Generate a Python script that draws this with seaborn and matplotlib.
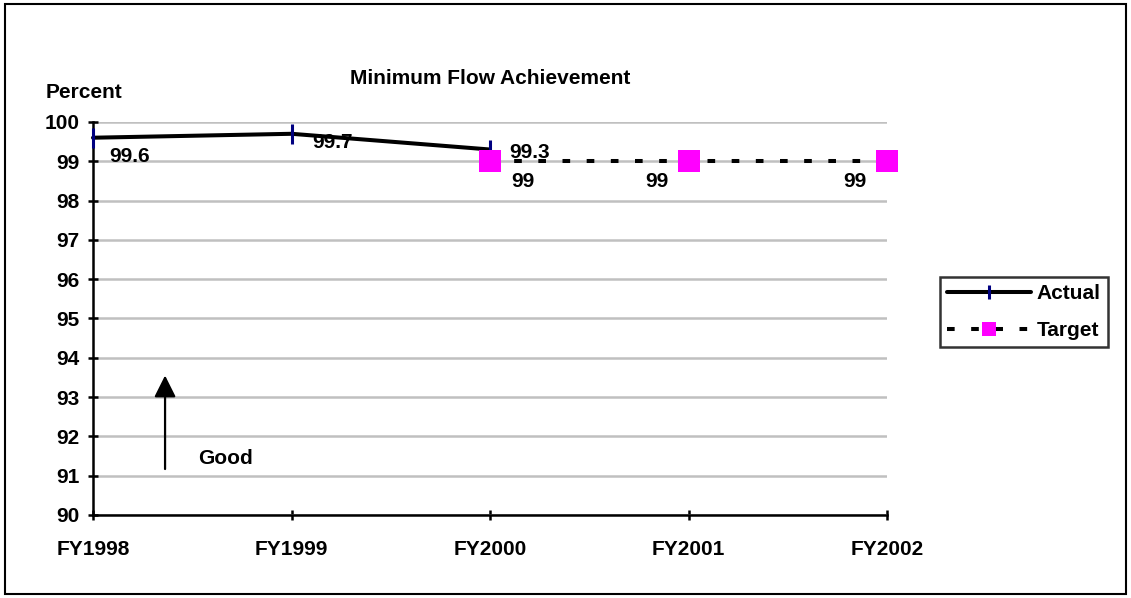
import matplotlib
matplotlib.use("Agg")
import matplotlib.pyplot as plt
import seaborn as sns
import pandas as pd
from matplotlib.patches import Rectangle

categories = ["FY1998", "FY1999", "FY2000", "FY2001", "FY2002"]
actual_cats = ["FY1998", "FY1999", "FY2000"]
actual_vals = [99.6, 99.7, 99.3]
target_cats = ["FY2000", "FY2001", "FY2002"]
target_vals = [99, 99, 99]
yticks = [90, 91, 92, 93, 94, 95, 96, 97, 98, 99, 100]

sns.set_theme(style="white")
plt.rcParams['font.family'] = ['Liberation Sans', 'DejaVu Sans']
plt.rcParams['font.weight'] = 'bold'
plt.rcParams['text.color'] = 'black'
plt.rcParams['xtick.color'] = 'black'
plt.rcParams['ytick.color'] = 'black'
plt.rcParams['xtick.labelcolor'] = 'black'
plt.rcParams['ytick.labelcolor'] = 'black'

FS = 15
W, H = 1131, 598
pos = {c: i for i, c in enumerate(categories)}
df_a = pd.DataFrame({"x": [pos[c] for c in actual_cats], "y": actual_vals})
df_t = pd.DataFrame({"x": [pos[c] for c in target_cats], "y": target_vals})

fig = plt.figure(figsize=(W / 100, H / 100), dpi=100)
fig.patches.append(Rectangle((5 / W, 4 / H), (W - 10) / W, (H - 8) / H, transform=fig.transFigure,
                             fill=False, edgecolor='black', linewidth=1.5))
ax = fig.add_axes([93 / W, 1 - 515 / H, (887 - 93) / W, (515 - 122) / H])

sns.lineplot(data=df_a, x="x", y="y", ax=ax, color="black", linewidth=2.9,
             marker="|", markersize=15, markeredgewidth=2.2, markeredgecolor="#000080",
             label="Actual", clip_on=False, zorder=3)
sns.lineplot(data=df_t, x="x", y="y", ax=ax, color="black", linewidth=2.9,
             linestyle=(0, (1.9, 4.1)), marker="s", markersize=15.5, markerfacecolor="#FF00FF",
             markeredgecolor="#FF00FF", markeredgewidth=0, label="Target", clip_on=False, zorder=4)

ax.set_xlim(0, 4)
ax.set_ylim(90, 100)
ax.set_yticks(yticks)
ax.set_xticks(range(len(categories)))
ax.set_xticklabels(categories)
ax.set_xlabel("")
ax.set_ylabel("")
ax.grid(axis="y", color="#c0c0c0", linewidth=1.8)
ax.set_axisbelow(True)
for s in ["top", "right"]:
    ax.spines[s].set_visible(False)
for s in ["left", "bottom"]:
    ax.spines[s].set_color("black")
    ax.spines[s].set_linewidth(1.8)
ax.tick_params(axis="both", which="major", direction="inout", length=7.5, width=1.8,
               color="black", labelsize=FS, bottom=True, left=True)
ax.tick_params(axis="x", pad=14)
ax.tick_params(axis="y", pad=6)
for lab in ax.get_xticklabels() + ax.get_yticklabels():
    lab.set_fontweight("bold")

# data labels (offsets in pixels)
a_off = [(37, -19), (41, -9), (40, -3)]
for (x, y), (dx, dy) in zip(zip(df_a["x"], df_a["y"]), a_off):
    ax.annotate(f"{y:g}", (x, y), xytext=(dx, dy), textcoords="offset pixels",
                ha="center", va="center", fontsize=FS, fontweight="bold", zorder=2)
t_off = [(33, -20), (-32, -20), (-32, -20)]
for (x, y), (dx, dy) in zip(zip(df_t["x"], df_t["y"]), t_off):
    ax.annotate(f"{y:g}", (x, y), xytext=(dx, dy), textcoords="offset pixels",
                ha="center", va="center", fontsize=FS, fontweight="bold")

# Good arrow
ax.annotate("", xy=(0.363, 93.55), xytext=(0.363, 91.17),
            arrowprops=dict(arrowstyle="-|>,head_width=0.55,head_length=1.1",
                            color="black", lw=1.6, shrinkA=0, shrinkB=0))
ax.text(0.665, 91.45, "Good", fontsize=FS, fontweight="bold", ha="center", va="center")

fig.text(490 / W, 1 - 78 / H, "Minimum Flow Achievement", ha="center", va="center",
         fontsize=15, fontweight="bold")
fig.text(46 / W, 1 - 92 / H, "Percent", ha="left", va="center", fontsize=FS, fontweight="bold")

leg = ax.legend(loc="upper left", bbox_to_anchor=(940 / W, 1 - 277 / H),
                bbox_transform=fig.transFigure, frameon=True, fancybox=False,
                edgecolor="black", fontsize=FS, handlelength=4.0, handletextpad=0.3,
                borderpad=0.35, borderaxespad=0, labelspacing=0.85)
leg.get_frame().set_linewidth(1.8)
for t in leg.get_texts():
    t.set_fontweight("bold")
hs = leg.legend_handles
hs[0].set_markersize(9.5)
hs[1].set_markersize(10)

fig.savefig("out.png", dpi=100)
